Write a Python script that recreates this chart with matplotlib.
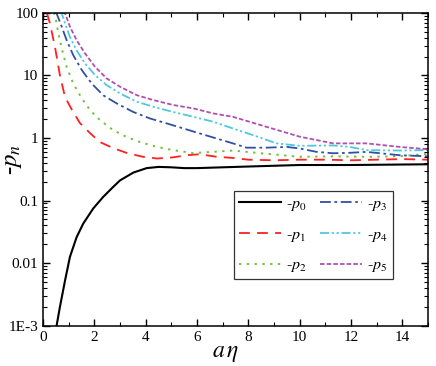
import matplotlib
matplotlib.use("Agg")
from matplotlib import pyplot as plt
from matplotlib.ticker import FixedLocator, FixedFormatter, MultipleLocator, LogLocator, NullFormatter

plt.rcParams['font.family'] = ['Liberation Serif', 'DejaVu Serif']
plt.rcParams['mathtext.fontset'] = 'stix'

# curves
x0 = [0.53, 0.66, 0.86, 1.05, 1.31, 1.57, 1.96, 2.35, 2.74, 3.0, 3.52, 4.04, 4.5, 5.0, 5.5, 6.0, 7.0, 8.0, 10, 12, 15]
p0 = [0.001, 0.002, 0.0053, 0.0126, 0.026, 0.043, 0.075, 0.115, 0.166, 0.21, 0.28, 0.33, 0.345, 0.34, 0.33, 0.33, 0.34, 0.35, 0.37, 0.37, 0.38]

x1 = [0.15, 0.27, 0.47, 0.66, 0.86, 1.13, 1.44, 1.83, 2.22, 2.73, 3.27, 3.9, 4.44, 5.06, 5.6, 6.1, 6.78, 7.4, 8, 9, 10, 11, 12, 13, 14, 15]
p1 = [100, 68, 28, 10, 4.5, 2.8, 1.73, 1.2, 0.86, 0.69, 0.575, 0.50, 0.47, 0.49, 0.53, 0.55, 0.50, 0.48, 0.45, 0.44, 0.45, 0.45, 0.44, 0.45, 0.46, 0.45]

x2 = [0.4, 0.47, 0.6, 0.73, 0.92, 1.18, 1.51, 1.83, 2.22, 2.73, 3.27, 3.78, 4.44, 5.06, 5.84, 6.62, 7.4, 8.7, 10, 11.3, 12.6, 13.9, 15]
p2 = [100, 92, 47, 27, 13.7, 7.4, 4.3, 2.8, 1.93, 1.34, 1.03, 0.86, 0.72, 0.64, 0.575, 0.60, 0.63, 0.56, 0.50, 0.51, 0.50, 0.51, 0.56]

x3 = [0.45, 0.53, 0.73, 0.92, 1.18, 1.51, 1.9, 2.35, 2.87, 3.52, 4.17, 4.82, 5.47, 6.11, 6.77, 7.4, 7.93, 8.7, 9.5, 10, 10.66, 11.3, 11.96, 12.6, 13.9, 15]
p3 = [100, 98, 60, 36.6, 21, 12.2, 7.4, 4.8, 3.57, 2.6, 2.05, 1.71, 1.42, 1.18, 0.98, 0.82, 0.70, 0.70, 0.72, 0.68, 0.60, 0.57, 0.58, 0.60, 0.53, 0.51]

x4 = [0.6, 0.73, 0.86, 1.05, 1.31, 1.64, 2.03, 2.48, 3.0, 3.65, 4.3, 5.08, 5.86, 6.63, 7.4, 8.18, 9.1, 10, 11.3, 11.96, 12.6, 13.9, 15]
p4 = [100, 98, 68, 41, 25, 15.5, 10.1, 7.0, 5.15, 3.8, 3.15, 2.6, 2.18, 1.82, 1.42, 1.11, 0.82, 0.75, 0.76, 0.72, 0.64, 0.63, 0.64]

x5 = [0.75, 0.86, 1.05, 1.31, 1.64, 2.03, 2.48, 3.0, 3.65, 4.3, 5.08, 5.86, 6.63, 7.4, 8.7, 10, 11.3, 12.6, 13.9, 15]
p5 = [100, 98, 60, 36.6, 22.4, 13.7, 8.95, 6.6, 4.84, 4.03, 3.36, 2.97, 2.47, 2.18, 1.51, 1.05, 0.82, 0.82, 0.72, 0.66]

ytick_vals = [1e-3, 1e-2, 1e-1, 1, 10, 100]
ytick_labels = ["1E-3", "0.01", "0.1", "1", "10", "100"]

fig = plt.figure(figsize=(4.36, 3.66), dpi=100)
ax = fig.add_axes([0.0986, 0.110, 0.883, 0.855])

ax.plot(x0, p0, color="black", lw=1.5, label=r"-$p_0$")
ax.plot(x1, p1, color="#ff2020", lw=1.3, ls=(0, (6, 4)), label=r"-$p_1$")
ax.plot(x2, p2, color="#70c040", lw=1.4, ls=(0, (1.2, 2.8)), label=r"-$p_2$")
ax.plot(x3, p3, color="#3050a8", lw=1.3, ls=(0, (6, 2, 1.5, 2)), label=r"-$p_3$")
ax.plot(x4, p4, color="#50c8dc", lw=1.3, ls=(0, (5, 1.5, 1.2, 1.5, 1.2, 1.5)), label=r"-$p_4$")
ax.plot(x5, p5, color="#b050b0", lw=1.3, ls=(0, (2.5, 1.2)), label=r"-$p_5$")

ax.set_yscale("log")
ax.set_xlim(0, 15)
ax.set_ylim(1e-3, 100)
ax.xaxis.set_major_locator(MultipleLocator(2))
ax.xaxis.set_minor_locator(MultipleLocator(1))
ax.yaxis.set_major_locator(FixedLocator(ytick_vals))
ax.yaxis.set_major_formatter(FixedFormatter(ytick_labels))
ax.yaxis.set_minor_locator(LogLocator(base=10, subs=range(2, 10)))
ax.yaxis.set_minor_formatter(NullFormatter())
ax.tick_params(which="both", direction="in", top=True, right=True, labelsize=11)
ax.tick_params(which="major", length=5, width=1)
ax.tick_params(which="minor", length=3, width=0.8)
for s in ax.spines.values():
    s.set_linewidth(1.1)

ax.set_xlabel(r"$a\,\eta$", fontsize=17)
ax.xaxis.set_label_coords(0.475, -0.055)
ax.xaxis.label.set_va("top")
ax.set_ylabel(r"-$p_n$", fontsize=18)
ax.yaxis.set_label_coords(-0.05, 0.53)

leg = ax.legend(ncol=2, loc="upper left", bbox_to_anchor=(0.496, 0.43),
                fontsize=11.5, handlelength=2.65, frameon=True, fancybox=False, edgecolor="black",
                borderaxespad=0, borderpad=0.3, columnspacing=0.85, handletextpad=0.3,
                labelspacing=0.85)
leg.get_frame().set_linewidth(0.9)

fig.savefig("out.png", dpi=100)
